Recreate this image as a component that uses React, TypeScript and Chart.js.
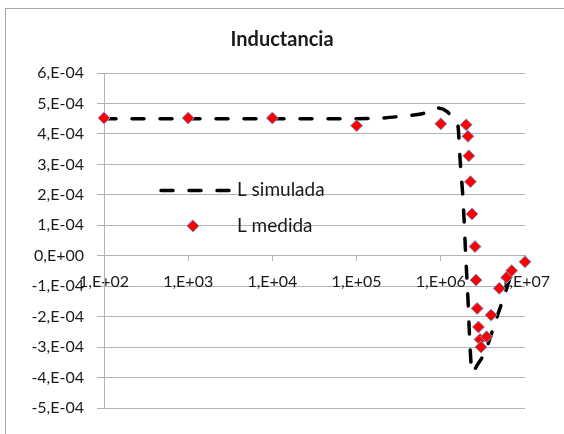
import React, { useEffect, useRef } from "react";
import { Chart, registerables } from "chart.js";

Chart.register(...registerables);

const titleText = "Inductancia";
const seriesNames = ["L simulada", "L medida"];

const xTickValues = [1e2, 1e3, 1e4, 1e5, 1e6, 1e7];
const xTickLabels = ["1,E+02", "1,E+03", "1,E+04", "1,E+05", "1,E+06", "1,E+07"];

const yTickValues = [-5e-4, -4e-4, -3e-4, -2e-4, -1e-4, 0, 1e-4, 2e-4, 3e-4, 4e-4, 5e-4, 6e-4];
const yTickLabels = ["-5,E-04", "-4,E-04", "-3,E-04", "-2,E-04", "-1,E-04", "0,E+00", "1,E-04", "2,E-04", "3,E-04", "4,E-04", "5,E-04", "6,E-04"];

const freqMedida = [1e2, 1e3, 1e4, 1e5, 1e6, 2.0e6, 2.1e6, 2.15e6, 2.25e6, 2.35e6, 2.55e6, 2.62e6, 2.7e6, 2.8e6, 2.92e6, 3.0e6, 3.5e6, 3.95e6, 4.95e6, 6.05e6, 6.95e6, 1e7];
const lMedida = [4.52e-4, 4.52e-4, 4.52e-4, 4.27e-4, 4.33e-4, 4.30e-4, 3.92e-4, 3.28e-4, 2.43e-4, 1.37e-4, 0.30e-4, -0.80e-4, -1.73e-4, -2.34e-4, -2.75e-4, -3.00e-4, -2.66e-4, -1.95e-4, -1.07e-4, -0.71e-4, -0.49e-4, -0.20e-4];

const freqSimulada = [1e2, 1e3, 1e4, 1e5, 2e5, 4e5, 6e5, 9e5, 1.2e6, 1.45e6, 1.6e6, 1.7e6, 1.84e6, 1.99e6, 2.1e6, 2.22e6, 2.35e6, 2.45e6, 2.69e6, 3.35e6, 4.4e6, 5.8e6, 7.3e6];
const lSimulada = [4.5e-4, 4.5e-4, 4.5e-4, 4.5e-4, 4.52e-4, 4.6e-4, 4.66e-4, 4.85e-4, 4.72e-4, 4.45e-4, 4.25e-4, 3.1e-4, 1.8e-4, -0.15e-4, -1.4e-4, -2.93e-4, -3.83e-4, -3.8e-4, -3.6e-4, -3.16e-4, -2.2e-4, -1.23e-4, -0.37e-4];

const FONT = "Lato, 'Open Sans', sans-serif";
const GRID = "#b3b3b3";
const TEXT = "#1a1a1a";
const MARKER_FILL = "#ff0000";
const MARKER_EDGE = "#6fa0d8";

const decorPlugin = {
  id: "decor",
  beforeDraw(chart: any) {
    const ctx = chart.ctx;
    ctx.save();
    ctx.fillStyle = "#ffffff";
    ctx.fillRect(0, 0, chart.width, chart.height);
    ctx.strokeStyle = "#a6a6a6";
    ctx.lineWidth = 1;
    ctx.strokeRect(5.5, 8.5, 700, 600);
    ctx.restore();
  },
  afterDraw(chart: any) {
    const ctx = chart.ctx;
    ctx.save();
    // title
    ctx.fillStyle = TEXT;
    ctx.font = `bold 20px ${FONT}`;
    ctx.textAlign = "center";
    ctx.textBaseline = "middle";
    ctx.fillText(titleText, 282, 40);
    // legend
    ctx.strokeStyle = "#000";
    ctx.lineWidth = 3.5;
    ctx.lineCap = "round";
    ctx.setLineDash([12, 16]);
    ctx.beginPath();
    ctx.moveTo(161, 190.5);
    ctx.lineTo(229, 190.5);
    ctx.stroke();
    ctx.setLineDash([]);
    // diamond
    const cx = 193, cy = 226, r = 6;
    ctx.beginPath();
    ctx.moveTo(cx, cy - r);
    ctx.lineTo(cx + r, cy);
    ctx.lineTo(cx, cy + r);
    ctx.lineTo(cx - r, cy);
    ctx.closePath();
    ctx.fillStyle = MARKER_FILL;
    ctx.fill();
    ctx.lineWidth = 1;
    ctx.strokeStyle = MARKER_EDGE;
    ctx.stroke();
    ctx.fillStyle = TEXT;
    ctx.font = `19px ${FONT}`;
    ctx.textAlign = "left";
    ctx.textBaseline = "middle";
    ctx.fillText(seriesNames[0], 237, 190);
    ctx.fillText(seriesNames[1], 237, 226);
    ctx.restore();
  },
};

export default function App() {
  const ref = useRef<HTMLCanvasElement | null>(null);
  useEffect(() => {
    if (!ref.current) return;
    const chart = new Chart(ref.current, {
      type: "scatter",
      data: {
        datasets: [
          {
            label: seriesNames[1],
            data: freqMedida.map((f, i) => ({ x: f, y: lMedida[i] })),
            showLine: false,
            pointStyle: "rectRot",
            pointRadius: 6,
            backgroundColor: MARKER_FILL,
            borderColor: MARKER_EDGE,
            pointBorderWidth: 1,
            clip: false,
          },
          {
            label: seriesNames[0],
            data: freqSimulada.map((f, i) => ({ x: f, y: lSimulada[i] })),
            showLine: true,
            pointRadius: 0,
            borderColor: "#000000",
            borderWidth: 3.5,
            borderDash: [12, 16],
            borderCapStyle: "round",
            cubicInterpolationMode: "monotone",
            clip: false,
          },
        ],
      },
      options: {
        animation: false,
        responsive: false,
        devicePixelRatio: 1,
        layout: { padding: { left: 0, right: 39, top: 73, bottom: 26 } },
        plugins: { legend: { display: false }, title: { display: false }, tooltip: { enabled: false } },
        scales: {
          x: {
            type: "logarithmic",
            position: { y: 0 },
            min: 1e2,
            max: 1e7,
            afterBuildTicks: (s: any) => {
              s.ticks = xTickValues.map((v) => ({ value: v }));
            },
            ticks: {
              autoSkip: false,
              maxRotation: 0,
              padding: 12,
              color: TEXT,
              font: { family: FONT, size: 16 },
              callback: (_v: any, i: number) => xTickLabels[i],
            },
            grid: { drawOnChartArea: false, drawTicks: true, tickLength: 5, color: GRID },
            border: { display: true, color: GRID, width: 1 },
          },
          y: {
            type: "linear",
            min: -5e-4,
            max: 6e-4,
            afterBuildTicks: (s: any) => {
              s.ticks = yTickValues.map((v) => ({ value: v }));
            },
            afterFit: (s: any) => {
              s.width = 104;
            },
            ticks: {
              padding: 13,
              color: TEXT,
              font: { family: FONT, size: 16 },
              callback: (_v: any, i: number) => yTickLabels[i],
            },
            grid: { color: GRID, tickLength: 7, drawTicks: true },
            border: { display: true, color: GRID, width: 1 },
          },
        },
      },
      plugins: [decorPlugin],
    } as any);
    return () => chart.destroy();
  }, []);
  return (
    <div style={{ position: "fixed", left: 0, top: 0, width: 564, height: 434, overflow: "hidden", background: "#fff" }}>
      <canvas ref={ref} width={564} height={434} style={{ width: 564, height: 434, display: "block" }} />
    </div>
  );
}
